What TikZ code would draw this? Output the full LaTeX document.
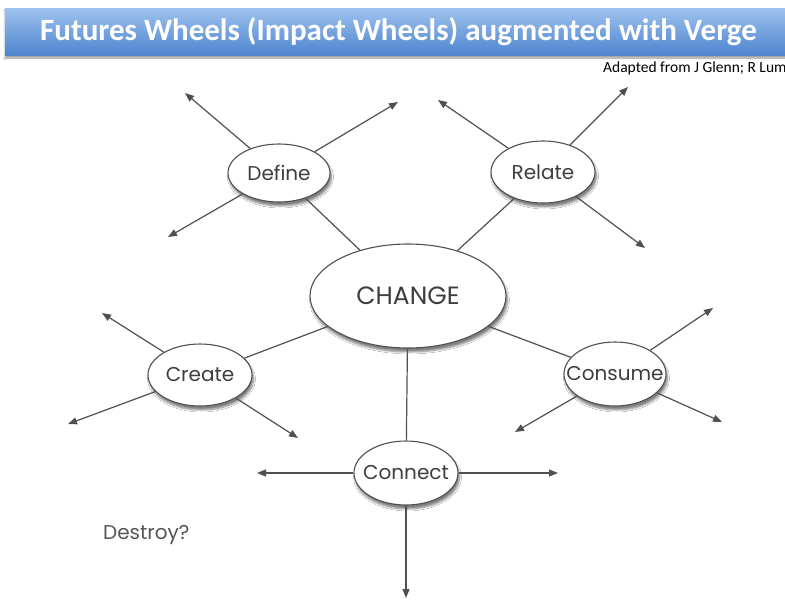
\documentclass[tikz,border=0pt]{standalone}
\usepackage{fontspec}
\setmainfont{Carlito}
\newfontfamily\gothic{Poppins}
\usetikzlibrary{shapes.geometric,shadows.blur,arrows.meta}
\definecolor{barTop}{RGB}{158,194,238}
\definecolor{barBot}{RGB}{78,133,207}
\definecolor{ink}{RGB}{62,62,62}
\definecolor{edgecol}{RGB}{80,80,80}
\tikzset{
  wheel/.style={ellipse, draw=edgecol, line width=1.1pt, fill=white, inner sep=0pt,
    blur shadow={shadow xshift=1.5pt, shadow yshift=-4pt, shadow blur steps=6, shadow opacity=50}},
  lbl/.style={font=\gothic\fontsize{20}{22}\selectfont, text=ink, inner sep=0pt},
  biglbl/.style={font=\gothic\fontsize{25}{27}\selectfont, text=ink, inner sep=0pt},
  spoke/.style={draw=edgecol, line width=1.2pt},
  arrowline/.style={spoke, -{Triangle[length=9pt,width=7pt]}},
  titlebar/.style={shade, top color=barTop, bottom color=barBot, inner sep=0pt,
    minimum width=787pt, minimum height=47pt, text=white,
    font=\bfseries\fontsize{31}{33}\selectfont,
    blur shadow={shadow xshift=0pt, shadow yshift=-3pt, shadow blur steps=5, shadow opacity=40}}
}
\begin{document}
\begin{tikzpicture}[x=1pt,y=-1pt]
\useasboundingbox (0,0) rectangle (785,603);
\fill[white] (0,0) rectangle (785,603);

\node[titlebar] (title) at (398.5,31.5) {Futures Wheels (Impact Wheels) augmented with Verge};
\node[anchor=base west, font=\fontsize{15.5}{17}\selectfont, text=black, inner sep=0pt] (src) at (603,72.5) {Adapted from J Glenn; R Lum};

% nodes
\node[wheel, minimum width=196pt, minimum height=104pt, label={[biglbl]center:CHANGE}] (chg) at (408,296) {};
\node[wheel, minimum width=102pt, minimum height=58pt, label={[lbl]center:Define}] (def) at (279,173) {};
\node[wheel, minimum width=104pt, minimum height=62pt, label={[lbl]center:Relate}] (rel) at (543,172) {};
\node[wheel, minimum width=104pt, minimum height=62pt, label={[lbl]center:Create}] (cre) at (200,375) {};
\node[wheel, minimum width=102pt, minimum height=64pt, label={[lbl]center:Consume}] (con) at (615,374) {};
\node[wheel, minimum width=104pt, minimum height=64pt, label={[lbl]center:Connect}] (cnn) at (406,473) {};

\node[lbl, anchor=base west, text={rgb,255:red,85;green,85;blue,85}] (destroy) at (103,539) {Destroy?};

% free ends
\coordinate (d1) at (185,93);
\coordinate (d2) at (398,102);
\coordinate (d3) at (168,237);
\coordinate (r1) at (438,100);
\coordinate (r2) at (628,87);
\coordinate (r3) at (645,248);
\coordinate (c1) at (102,313);
\coordinate (c2) at (68,424);
\coordinate (c3) at (298,438);
\coordinate (s1) at (713,308);
\coordinate (s2) at (515,432);
\coordinate (s3) at (722,422);
\coordinate (n1) at (257,473);
\coordinate (n2) at (558,473);
\coordinate (n3) at (406,598);

% spokes to CHANGE
\draw[spoke] (def) -- (chg);
\draw[spoke] (rel) -- (chg);
\draw[spoke] (cre) -- (chg);
\draw[spoke] (con) -- (chg);
\draw[spoke] (cnn) -- (chg);

% arrows
\foreach \n/\t in {def/d1,def/d2,def/d3,rel/r1,rel/r2,rel/r3,cre/c1,cre/c2,cre/c3,con/s1,con/s2,con/s3,cnn/n1,cnn/n2,cnn/n3}
  \draw[arrowline] (\n) -- (\t);
\end{tikzpicture}
\end{document}
